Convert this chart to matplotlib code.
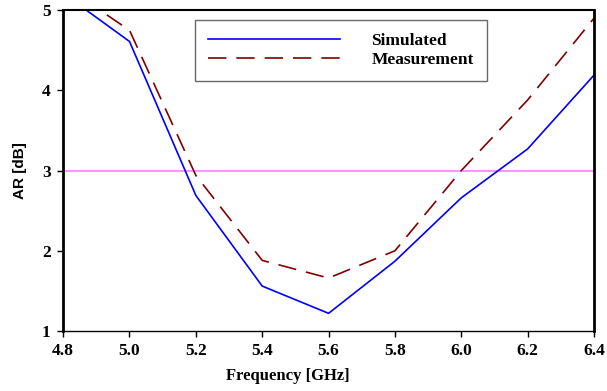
import matplotlib.pyplot as plt

freq = [4.8, 5.0, 5.2, 5.4, 5.6, 5.8, 6.0, 6.2, 6.4]
simulated = [5.21, 4.61, 2.69, 1.56, 1.22, 1.87, 2.66, 3.27, 4.19]
measurement = [5.31, 4.75, 2.94, 1.88, 1.66, 2.0, 3.0, 3.88, 4.9]
ar_limit = 3.0

serif = "Liberation Serif"

fig = plt.figure(figsize=(6.07, 3.91), dpi=100)
ax = fig.add_axes([0.104, 0.1535, 0.8746, 0.8205])

ax.axhline(ar_limit, color="#ff80ff", lw=1.2)
ax.plot(freq, simulated, color="#0000ff", lw=1.2, label="Simulated")
ax.plot(freq, measurement, color="#800000", lw=1.2, dashes=(11, 6), label="Measurement")

ax.set_xlim(4.8, 6.4)
ax.set_ylim(1, 5)
ax.set_xticks(freq)
ax.set_xticklabels(["%.1f" % f for f in freq])
ax.set_yticks([1, 2, 3, 4, 5])

for lab in ax.get_xticklabels() + ax.get_yticklabels():
    lab.set_fontfamily(serif)
    lab.set_fontweight("bold")
    lab.set_fontsize(12.5)

ax.tick_params(direction="out", length=4, width=1, top=False, right=False, pad=5)
ax.spines["left"].set_linewidth(2)
ax.spines["bottom"].set_linewidth(1)
ax.spines["top"].set_linewidth(1.5)
ax.spines["right"].set_linewidth(2)

ax.set_xlabel("Frequency [GHz]", fontfamily=serif, fontweight="bold", fontsize=12)
ax.xaxis.set_label_coords(0.424, -0.115)
ax.set_ylabel("AR [dB]", fontfamily="Liberation Sans", fontweight="bold", fontsize=11)
ax.yaxis.set_label_coords(-0.068, 0.5)

leg = ax.legend(loc="upper left", bbox_to_anchor=(0.2486, 0.969), handlelength=7.6,
                handletextpad=1.8, labelspacing=0.15, borderpad=0.75, borderaxespad=0,
                fancybox=False, prop={"family": serif, "weight": "bold", "size": 12.5})
leg.get_frame().set_edgecolor("#444444")
leg.get_frame().set_linewidth(1)

plt.savefig("out.png")
